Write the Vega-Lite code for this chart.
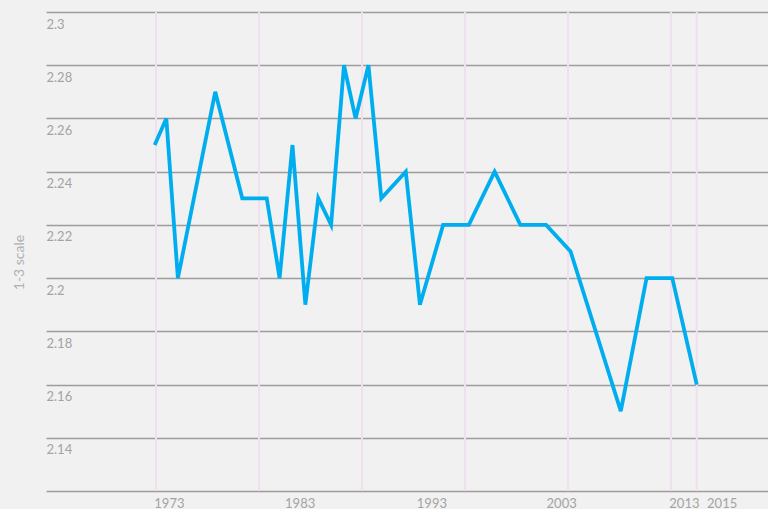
{
  "$schema": "https://vega.github.io/schema/vega-lite/v6.json",
  "width": 722,
  "height": 479,
  "autosize": {"type": "none"},
  "padding": {"left": 46, "top": 12, "right": 0, "bottom": 18},
  "background": "#f1f1f1",
  "config": {"view": {"stroke": null}, "font": "Lato"},
  "datasets": {
    "series": [
      {"year": 1971.9, "value": 2.25},
      {"year": 1972.8, "value": 2.26},
      {"year": 1973.7, "value": 2.2},
      {"year": 1976.6, "value": 2.27},
      {"year": 1978.7, "value": 2.23},
      {"year": 1980.6, "value": 2.23},
      {"year": 1981.6, "value": 2.2},
      {"year": 1982.6, "value": 2.25},
      {"year": 1983.6, "value": 2.19},
      {"year": 1984.6, "value": 2.23},
      {"year": 1985.6, "value": 2.22},
      {"year": 1986.6, "value": 2.28},
      {"year": 1987.5, "value": 2.26},
      {"year": 1988.5, "value": 2.28},
      {"year": 1989.5, "value": 2.23},
      {"year": 1991.4, "value": 2.24},
      {"year": 1992.5, "value": 2.19},
      {"year": 1994.3, "value": 2.22},
      {"year": 1996.3, "value": 2.22},
      {"year": 1998.3, "value": 2.24},
      {"year": 2000.3, "value": 2.22},
      {"year": 2002.3, "value": 2.22},
      {"year": 2004.2, "value": 2.21},
      {"year": 2008.1, "value": 2.15},
      {"year": 2010.1, "value": 2.2},
      {"year": 2012.1, "value": 2.2},
      {"year": 2014.0, "value": 2.16}
    ],
    "gridYears": [
      {"year": 1972}, {"year": 1980}, {"year": 1988}, {"year": 1996},
      {"year": 2004}, {"year": 2012}, {"year": 2014}
    ]
  },
  "encoding": {
    "x": {
      "field": "year",
      "type": "quantitative",
      "scale": {"domain": [1963.456, 2019.534], "nice": false, "zero": false},
      "axis": {
        "values": [1973, 1983, 1993, 2003, 2013, 2015],
        "format": "d",
        "title": null,
        "grid": false,
        "ticks": false,
        "domain": true,
        "domainColor": "#9d9d9d",
        "domainWidth": 1.5,
        "labelPadding": 6,
        "labelColor": "#a3a3a3",
        "labelFontSize": 13,
        "labelOverlap": false,
        "labelFlush": false,
        "labelOffset": {
          "condition": [
            {"test": "datum.value == 1983", "value": 2},
            {"test": "datum.value == 1993", "value": 5},
            {"test": "datum.value == 2003", "value": 6},
            {"test": "datum.value == 2015", "value": 12}
          ],
          "value": 0
        }
      }
    }
  },
  "layer": [
    {
      "data": {"name": "gridYears"},
      "mark": {"type": "rule", "color": "#efe0ef", "strokeWidth": 2}
    },
    {
      "data": {"name": "series"},
      "mark": {"type": "line", "color": "#00aeef", "strokeWidth": 3.8, "strokeJoin": "miter"},
      "encoding": {
        "y": {
          "field": "value",
          "type": "quantitative",
          "scale": {"domain": [2.12, 2.3], "nice": false, "zero": false},
          "axis": {
            "values": [2.14, 2.16, 2.18, 2.2, 2.22, 2.24, 2.26, 2.28, 2.3],
            "format": "~g",
            "grid": true,
            "gridColor": "#9d9d9d",
            "gridWidth": 1.3,
            "domain": false,
            "ticks": false,
            "labelAlign": "left",
            "labelBaseline": "top",
            "labelPadding": 0,
            "labelOffset": 6,
            "labelColor": "#a3a3a3",
            "labelFontSize": 13,
            "title": "1-3 scale",
            "titleColor": "#b0b0b0",
            "titleFontSize": 14,
            "titleFontWeight": "normal",
            "titleAngle": 270,
            "titleAlign": "center",
            "titleBaseline": "middle",
            "titleX": -27,
            "titleY": 250
          }
        }
      }
    }
  ]
}
